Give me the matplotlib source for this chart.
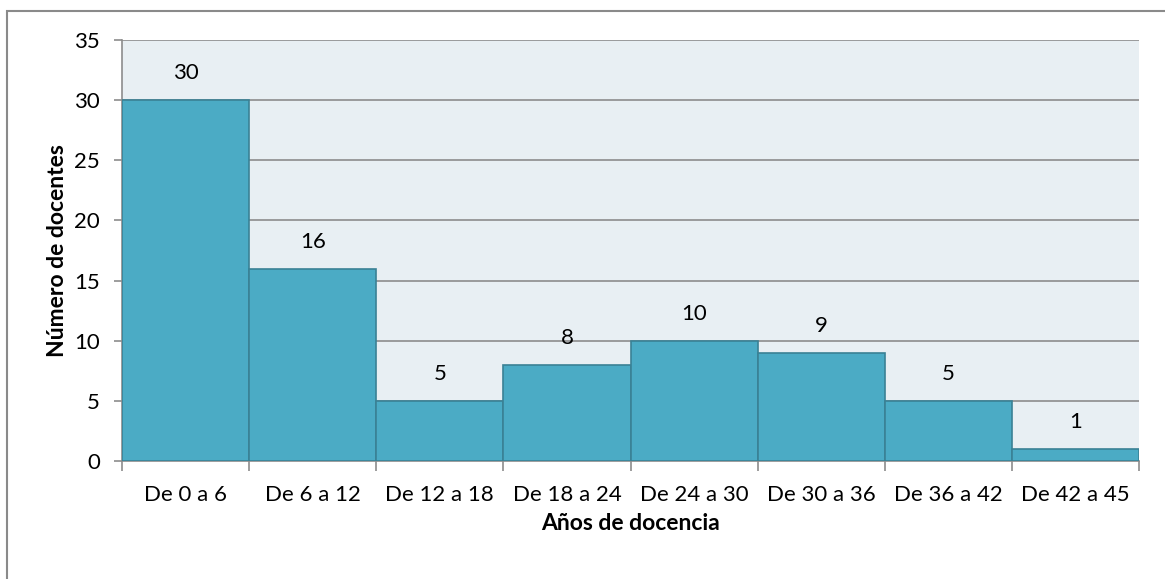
import numpy as np
import matplotlib.pyplot as plt
from matplotlib.patches import Rectangle

plt.rcParams['font.family'] = ['Lato', 'DejaVu Sans']

categorias = ['De 0 a 6', 'De 6 a 12', 'De 12 a 18', 'De 18 a 24',
              'De 24 a 30', 'De 30 a 36', 'De 36 a 42', 'De 42 a 45']
docentes = [30, 16, 5, 8, 10, 9, 5, 1]
yticks = [0, 5, 10, 15, 20, 25, 30, 35]

W, H = 1165, 579
fig = plt.figure(figsize=(W / 100, H / 100), dpi=100)
fig.patch.set_facecolor('white')

# marco exterior del grafico
fig.patches.append(Rectangle((7 / W, -0.05), 1.1, 1 - 11 / H + 0.05,
                             transform=fig.transFigure, fill=False,
                             edgecolor='#8a8a8a', linewidth=1.5, zorder=0))

ax = fig.add_axes([122 / W, 1 - 461 / H, (1139 - 122) / W, (461 - 40) / H])
ax.set_facecolor('#e8eff3')

x = np.arange(len(categorias))
ax.bar(x, docentes, width=1.0, align='edge', color='#4babc5',
       edgecolor='#3a8195', linewidth=1.2, zorder=3)

for xi, v in zip(x, docentes):
    ax.annotate(str(v), (xi + 0.5, v), xytext=(0, 12), textcoords='offset points',
                ha='center', va='bottom', fontsize=16, color='black')

ax.set_xlim(0, len(categorias))
ax.set_ylim(0, 35)
ax.set_yticks(yticks)
ax.yaxis.grid(True, color='#8c8c8c', linewidth=1.2, zorder=0)
ax.set_axisbelow(True)

ax.set_xticks(np.arange(len(categorias) + 1))
ax.set_xticklabels([])
ax.set_xticks(x + 0.5, minor=True)
ax.set_xticklabels(categorias, minor=True)
ax.tick_params(axis='x', which='minor', length=0, pad=17, labelsize=16)
ax.tick_params(axis='x', which='major', length=7, color='#8c8c8c', width=1.2)
ax.tick_params(axis='y', length=6, color='#8c8c8c', width=1.2, labelsize=16, pad=10)

for s in ['top', 'right']:
    ax.spines[s].set_visible(False)
ax.spines['left'].set_color('#8c8c8c')
ax.spines['bottom'].set_color('#8c8c8c')
ax.spines['left'].set_linewidth(1.2)
ax.spines['bottom'].set_linewidth(1.2)

ax.set_xlabel('Años de docencia', fontsize=16.5, fontweight='bold', labelpad=6)
ax.set_ylabel('Número de docentes', fontsize=16.5, fontweight='bold', labelpad=4)

fig.savefig('out.png', dpi=100, facecolor='white')
